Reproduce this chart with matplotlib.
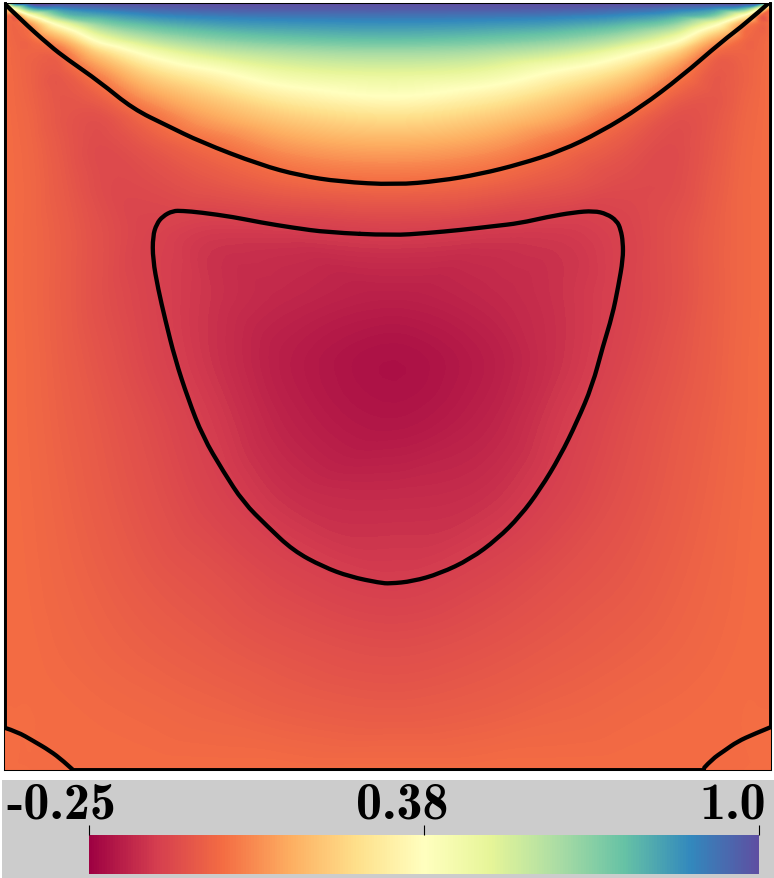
import matplotlib
matplotlib.use('Agg')
import matplotlib.pyplot as plt
import matplotlib.tri as mtri
import numpy as np
from matplotlib.cm import ScalarMappable
from matplotlib.colors import Normalize
from matplotlib.patches import PathPatch
from matplotlib.path import Path

# Grid of the field (fractions of the box)
x_grid = [0, .013, .034, .073, .125, .19, .269, .373, .51, .626, .73, .808, .874, .926, .965, .986, 1]
y_grid = [1, .993, .984, .973, .953, .934, .91, .879, .851, .816, .767, .699, .614, .536, .458, .353, .245, .158, .08, 0]

field = [
    [.3, .9, 1, 1, 1, 1, 1, 1, 1, 1, 1, 1, 1, 1, 1, .9, .3],
    [0, .375, .75, .855, .91, .945, .965, .97, .97, .97, .965, .945, .91, .855, .75, .375, 0],
    [0, -.01, .345, .7, .805, .865, .895, .91, .915, .91, .895, .865, .805, .7, .345, -.01, 0],
    [0, -.02, .07, .415, .67, .77, .82, .845, .855, .845, .82, .77, .67, .415, .07, -.02, 0],
    [0, -.02, -.01, .125, .42, .59, .68, .73, .75, .73, .68, .59, .42, .125, -.01, -.02, 0],
    [0, -.015, -.025, -.01, .2, .4, .53, .6, .625, .6, .53, .4, .2, -.01, -.025, -.015, 0],
    [0, -.012, -.03, -.05, .06, .23, .35, .47, .5, .47, .35, .23, .06, -.05, -.03, -.012, 0],
    [0, -.01, -.027, -.06, -.03, .09, .2, .315, .375, .315, .2, .09, -.03, -.06, -.027, -.01, 0],
    [0, -.008, -.022, -.06, -.075, 0, .105, .2, .25, .2, .105, 0, -.075, -.06, -.022, -.008, 0],
    [0, -.006, -.018, -.055, -.09, -.055, .005, .09, .125, .09, .005, -.055, -.09, -.055, -.018, -.006, 0],
    [0, -.005, -.015, -.048, -.09, -.09, -.06, -.02, 0, -.02, -.06, -.09, -.09, -.048, -.015, -.005, 0],
    [0, -.005, -.015, -.04, -.078, -.112, -.135, -.135, -.125, -.135, -.135, -.112, -.078, -.04, -.015, -.005, 0],
    [0, -.005, -.015, -.04, -.078, -.112, -.145, -.17, -.185, -.17, -.145, -.112, -.078, -.04, -.015, -.005, 0],
    [0, -.004, -.013, -.037, -.068, -.105, -.145, -.19, -.215, -.19, -.145, -.105, -.068, -.037, -.013, -.004, 0],
    [0, -.004, -.012, -.032, -.057, -.09, -.13, -.18, -.205, -.18, -.13, -.09, -.057, -.032, -.012, -.004, 0],
    [0, -.003, -.009, -.025, -.047, -.075, -.11, -.15, -.16, -.15, -.11, -.075, -.047, -.025, -.009, -.003, 0],
    [0, -.002, -.006, -.018, -.034, -.055, -.075, -.105, -.125, -.105, -.075, -.055, -.034, -.018, -.006, -.002, 0],
    [0, -.001, -.003, -.011, -.022, -.035, -.05, -.07, -.085, -.07, -.05, -.035, -.022, -.011, -.003, -.001, 0],
    [0, 0, 0, -.003, -.008, -.015, -.025, -.04, -.05, -.04, -.025, -.015, -.008, -.003, 0, 0, 0],
    [0, 0, 0, 0, 0, 0, 0, 0, 0, 0, 0, 0, 0, 0, 0, 0, 0],
]

# Zero line under the lid
top_x = [.001, .021, .06, .082, .125, .168, .213, .256, .334, .386, .438, .51, .568, .621, .673, .726, .778, .83, .883, .935, .969, .996]
top_y = [.999, .979, .944, .927, .897, .862, .84, .819, .789, .775, .767, .763, .768, .777, .79, .807, .832, .864, .904, .949, .975, .999]

# Closed line around the core, starting on the flat top part
core_x = [.464, .507, .551, .595, .638, .673, .708, .743, .769, .786, .799, .804,
          .807, .807, .801, .793, .781, .767, .747, .725, .699, .673, .643, .608, .568, .533, .503, .49, .451, .416, .377, .343, .312, .286, .259,
          .24, .223, .21, .201, .194, .194, .199, .207, .22, .233, .256, .299, .334, .377, .421, .464]
core_y = [.699, .697, .7, .704, .709, .713, .721, .727, .729, .725, .716, .705,
          .688, .666, .631, .592, .553, .501, .454, .409, .366, .331, .301, .275, .256, .246, .243, .244, .252, .265, .286, .318, .349, .389, .435,
          .484, .536, .588, .627, .666, .696, .712, .722, .729, .729, .727, .721, .714, .707, .701, .699]

# Small lines in the lower corners
left_corner_x = [.001, .017, .038, .06, .077, .089]
left_corner_y = [.055, .05, .038, .025, .012, .001]
right_corner_x = [1, .978, .956, .939, .923, .913]
right_corner_y = [.056, .047, .037, .025, .014, .003]

cbar_ticks = [-0.25, 0.375, 1.0]
cbar_labels = ['-0.25', '0.38', '1.0']
label_x = [6, 356, 699]


def smooth_line(xs, ys):
    # read points are the control points of a chain of quadratic curves
    pts = np.column_stack([xs, ys])
    verts = [pts[0]]
    codes = [Path.MOVETO]
    for i in range(1, len(pts) - 1):
        end = pts[i + 1] if i == len(pts) - 2 else (pts[i] + pts[i + 1]) / 2
        verts += [pts[i], end]
        codes += [Path.CURVE3, Path.CURVE3]
    return Path(verts, codes)


W, H = 774, 879
fig = plt.figure(figsize=(W / 100, H / 100), dpi=100)

ax = fig.add_axes([4 / W, 1 - 771 / H, 767 / W, 767 / H])
norm = Normalize(cbar_ticks[0], cbar_ticks[-1])

gx, gy = np.meshgrid(x_grid, y_grid)
tri = mtri.Triangulation(gx.ravel(), gy.ravel())
refiner = mtri.UniformTriRefiner(tri)
values = np.array(field).ravel()
fine_tri, fine_field = refiner.refine_field(values, mtri.CubicTriInterpolator(tri, values, kind='geom'), subdiv=3)
ax.tricontourf(fine_tri, fine_field, levels=np.linspace(-0.25, 1, 251), cmap='Spectral', norm=norm, extend='both', antialiased=False)
ax.set_xlim(0, 1)
ax.set_ylim(0, 1)
ax.set_xticks([])
ax.set_yticks([])
for s in ax.spines.values():
    s.set_linewidth(0.75)
    s.set_color('black')

for lx, ly in [(top_x, top_y), (core_x, core_y), (left_corner_x, left_corner_y), (right_corner_x, right_corner_y)]:
    ax.add_patch(PathPatch(smooth_line(lx, ly), fill=False, edgecolor='black', lw=3.1, joinstyle='round', capstyle='round'))

# Walls where the value is zero are part of the same contour
ax.plot([0.001, 0.001], [.055, 1], color='black', lw=2.1, clip_on=False)
ax.plot([.999, .999], [.056, 1], color='black', lw=2.1, clip_on=False)
ax.plot([.089, .913], [0.001, 0.001], color='black', lw=2.1, clip_on=False)

# Grey strip with the colour bar
panel = fig.add_axes([2 / W, 0, 772 / W, 98 / H])
panel.set_facecolor('#cccccc')
panel.set_xticks([])
panel.set_yticks([])
for s in panel.spines.values():
    s.set_visible(False)

cax = fig.add_axes([89 / W, 4 / H, 670 / W, 39 / H])
cb = fig.colorbar(ScalarMappable(norm=norm, cmap='Spectral'), cax=cax, orientation='horizontal', ticks=cbar_ticks)
cb.outline.set_visible(False)
cax.xaxis.set_ticks_position('top')
cax.tick_params(axis='x', length=7, width=0.8, color='black', labeltop=False, labelbottom=False)

for lab, px in zip(cbar_labels, label_x):
    fig.text(px / W, (H - 819) / H, lab, family='cmb10', fontsize=37.5, color='black', ha='left', va='baseline')

fig.savefig('out.png', dpi=100)
